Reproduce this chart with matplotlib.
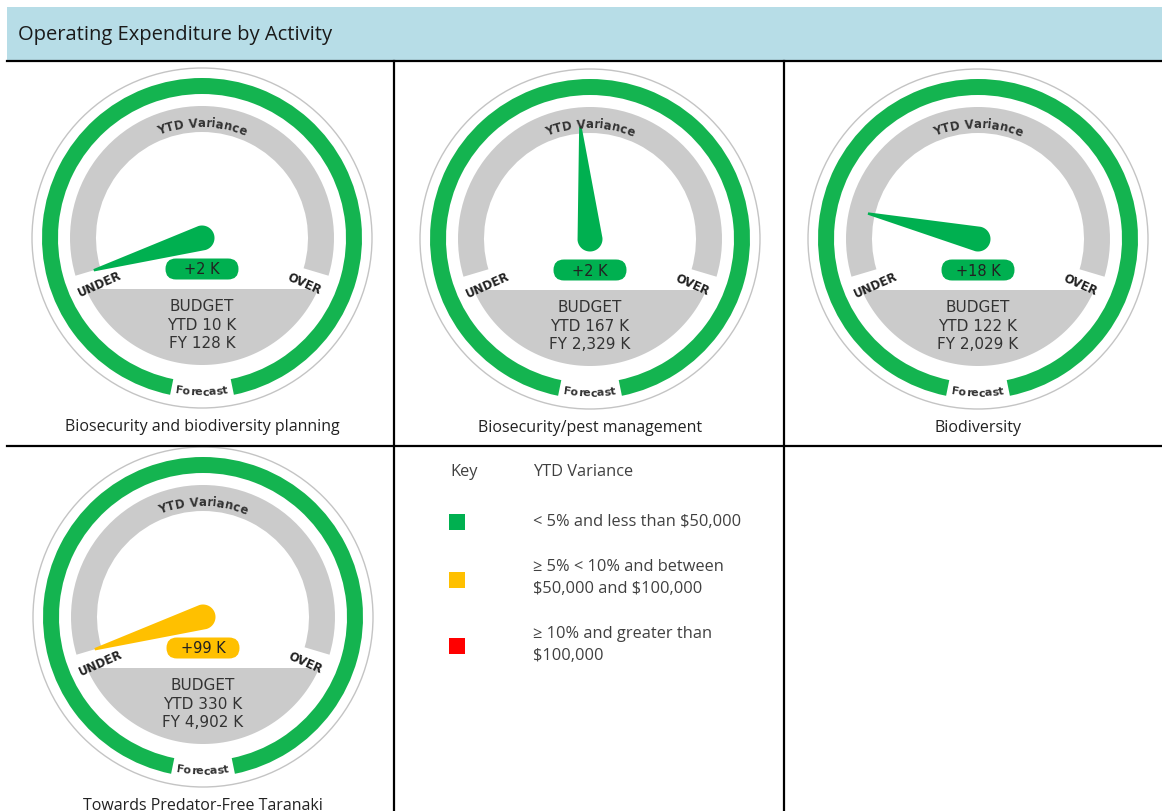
import numpy as np
import matplotlib
matplotlib.use("Agg")
import matplotlib.pyplot as plt
from matplotlib.patches import Wedge, Circle, Polygon, Rectangle, FancyBboxPatch
from matplotlib.font_manager import FontProperties, findfont, get_font
from matplotlib.textpath import TextPath, text_to_path

# ---- data ----
activities = ["Biosecurity and biodiversity planning",
              "Biosecurity/pest management",
              "Biodiversity",
              "Towards Predator-Free Taranaki"]
variance_labels = ["+2 K", "+2 K", "+18 K", "+99 K"]
ytd_budget = ["10 K", "167 K", "122 K", "330 K"]
fy_budget = ["128 K", "2,329 K", "2,029 K", "4,902 K"]
needle_pos = [0.0, 0.477, 0.139, 0.0]       # fraction along the dial, UNDER -> OVER
status = ["green", "green", "green", "amber"]

key_labels = ["< 5% and less than $50,000",
              "\u2265 5% < 10% and between\n$50,000 and $100,000",
              "\u2265 10% and greater than\n$100,000"]
key_status = ["green", "amber", "red"]

colours = {"green": "#00b050", "amber": "#ffc000", "red": "#ff0000"}
ring_green = "#14b450"
grey = "#cbcbcb"
dark = "#333333"

W, H = 1162, 812
fig = plt.figure(figsize=(W / 100, H / 100), dpi=100)
ax = fig.add_axes([0, 0, 1, 1])
ax.set_xlim(0, W)
ax.set_ylim(0, H)
ax.axis("off")

UI = ["Open Sans", "DejaVu Sans"]
GAUGE = ["DejaVu Sans"]


def sy(y):
    # screen y (top down) -> axes y
    return H - y


def char_offsets(text, fp, size_px):
    # ink centre of every glyph along the line (kerning included), line centred on 0
    font = get_font(findfont(fp))
    font.set_size(100, 72)
    info, _, _ = text_to_path.get_glyphs_with_font(font, text)
    scale = size_px / 100
    full = TextPath((0, 0), text, size=size_px, prop=fp).get_extents()
    mid = (full.x0 + full.x1) / 2
    out = []
    for c, g in zip(text, info):
        if c == " ":
            out.append(None)
            continue
        e = TextPath((0, 0), c, size=size_px, prop=fp).get_extents()
        out.append(g[1] * scale + (e.x0 + e.x1) / 2 - mid)
    return out


def arc_text(cx, cy, r, centre, text, size, clockwise=True):
    fp = FontProperties(family=GAUGE, weight="bold", size=size)
    offs = char_offsets(text, fp, size * 100 / 72)
    for c, s in zip(text, offs):
        if s is None:
            continue
        d = np.degrees(s / r)
        if clockwise:
            th = centre - d
            rot = th - 90
        else:
            th = centre + d
            rot = th + 90
        t = np.radians(th)
        ax.text(cx + r * np.cos(t), cy + r * np.sin(t), c, fontproperties=fp,
                color=dark, rotation=rot, rotation_mode="anchor",
                ha="center", va="baseline")


def draw_gauge(cx, cy_s, name, var_lbl, ytd, fy, pos, stat):
    cy = sy(cy_s)
    col = colours[stat]
    # thin outer circle
    ax.add_patch(Circle((cx, cy), 170, fill=False, ec="#c4c4c4", lw=1.0))
    # forecast ring with gap at the bottom
    ax.add_patch(Wedge((cx, cy), 160, -78.5, 258.5, width=16, fc=ring_green, ec="none"))
    # variance dial
    a0, a1 = -16.6, 196.6
    ax.add_patch(Wedge((cx, cy), 132, a0, a1, width=26, fc=grey, ec="none"))
    # budget segment below chord
    rb, chord = 127, 51
    half = np.degrees(np.arccos(chord / rb))
    th = np.radians(np.linspace(270 - half, 270 + half, 80))
    seg = np.column_stack([cx + rb * np.cos(th), cy + rb * np.sin(th)])
    ax.add_patch(Polygon(seg, closed=True, fc=grey, ec="none"))
    # needle
    ang = a1 - pos * (a1 - a0)
    t = np.radians(ang)
    L, rbase, rtip = 113, 12.5, 1.2
    back = np.radians(np.linspace(ang + 90, ang + 270, 40))
    pts = [(cx + L * np.cos(t) + rtip * np.cos(t + np.pi / 2),
            cy + L * np.sin(t) + rtip * np.sin(t + np.pi / 2))]
    pts += [(cx + rbase * np.cos(b), cy + rbase * np.sin(b)) for b in back]
    pts += [(cx + L * np.cos(t) + rtip * np.cos(t - np.pi / 2),
             cy + L * np.sin(t) + rtip * np.sin(t - np.pi / 2))]
    ax.add_patch(Polygon(pts, closed=True, fc=col, ec="none"))
    # variance pill
    pw, ph = 73, 21
    ax.add_patch(FancyBboxPatch((cx - pw / 2, cy - 31 - ph / 2), pw, ph,
                                boxstyle="round,pad=0,rounding_size=10.5",
                                fc=col, ec="none"))
    ax.text(cx, cy - 31, var_lbl, ha="center", va="center", fontsize=10.5,
            family=GAUGE, color="#222222")
    # curved / radial labels
    arc_text(cx, cy, 112, 90, "YTD Variance", 8.5, clockwise=True)
    arc_text(cx, cy, 156.5, 270, "Forecast", 8, clockwise=False)
    for lbl, a in (("UNDER", 204), ("OVER", -24)):
        r = np.radians(a)
        ax.text(cx + 112 * np.cos(r), cy + 112 * np.sin(r), lbl, rotation=a if a < 0 else a - 180,
                ha="center", va="center", fontsize=8.5, family=GAUGE, weight="bold",
                color="#222222", rotation_mode="anchor")
    # budget lines
    for i, line in enumerate(["BUDGET", "YTD " + ytd, "FY " + fy]):
        ax.text(cx, cy - 68 - 18.5 * i, line, ha="center", va="center", fontsize=11,
                family=GAUGE, color=dark)
    # caption
    ax.text(cx, cy - 188, name, ha="center", va="center", fontsize=11.5, family=UI,
            color="#222222")


# header band and table grid
ax.add_patch(Rectangle((7, sy(61.5)), W - 7, 54, fc="#b7dde7", ec="none"))
ax.text(18, sy(35), "Operating Expenditure by Activity", fontsize=14.5, family=UI,
        color="#1a1a1a", ha="left", va="center")
ax.plot([7, W], [sy(62), sy(62)], color="black", lw=1.6)
ax.plot([7, W], [sy(446.5), sy(446.5)], color="black", lw=1.6)
for x in (393.5, 784):
    ax.plot([x, x], [sy(62), 0], color="black", lw=1.6)

centres = [(202, 239), (590, 240), (978, 240), (203, 618)]
for (cx, cy_s), name, vl, ytd, fy, p, st in zip(centres, activities, variance_labels,
                                                 ytd_budget, fy_budget, needle_pos, status):
    draw_gauge(cx, cy_s, name, vl, ytd, fy, p, st)

# key panel
ax.text(450, sy(472), "Key", fontsize=11.8, family=UI, color="#404040", va="center")
ax.text(533, sy(472), "YTD Variance", fontsize=11.8, family=UI, color="#404040", va="center")
key_y = [523, 581, 647]
text_y = [522, 578, 645]
for ky, tyv, lbl, st in zip(key_y, text_y, key_labels, key_status):
    ax.add_patch(Rectangle((449, sy(ky + 8)), 16, 16, fc=colours[st], ec="none"))
    ax.text(533, sy(tyv), lbl, fontsize=11.8, family=UI, color="#404040", va="center",
            linespacing=1.55, parse_math=False)

fig.savefig("out.png", dpi=100)
